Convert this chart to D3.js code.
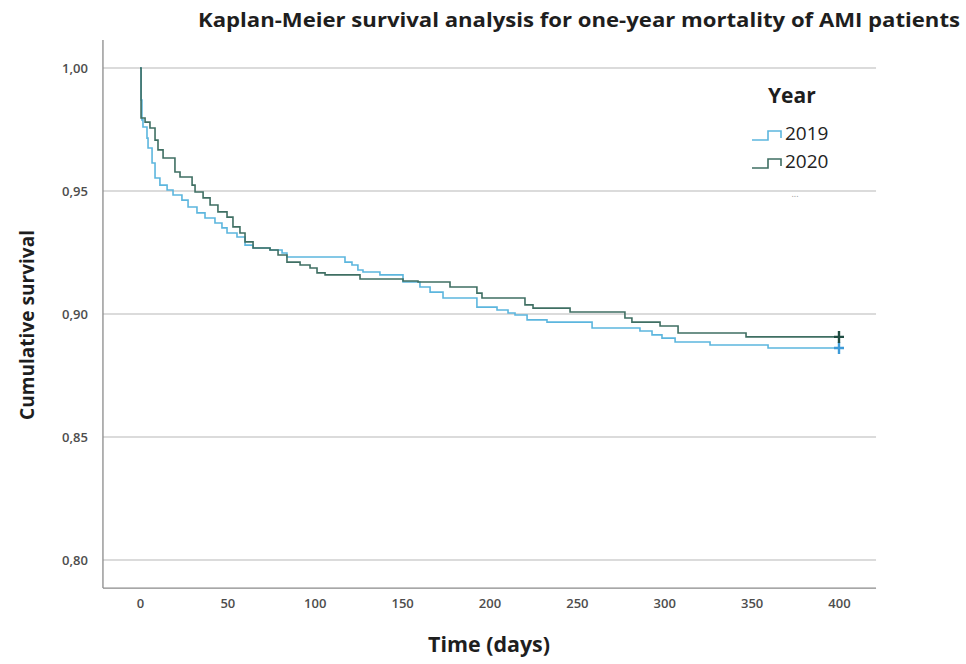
<!DOCTYPE html>
<html>
  <head>
    <meta charset="utf-8">
    <title>Kaplan-Meier survival</title>
    <script src="https://d3js.org/d3.v7.min.js"></script>
    <style>
      body { margin: 0; background: #fff; }
      text { font-family: "Open Sans", sans-serif; }
    </style>
  </head>
  <body>
    <div id="chart"></div>
    <script>
      // step times (days) and survival after each drop
      const days2019 = [0, 0.6, 1.1, 1.7, 4.0, 4.6, 6.9, 8.6, 11.4, 15.5, 18.9, 24.0, 27.5, 32.6, 37.2, 42.9, 46.9, 49.8, 55.5, 60.1, 64.7, 74.4, 81.3, 84.1, 117.3, 121.3, 124.7, 127.6, 137.3, 150.5, 160.2, 166.0, 173.4, 192.8, 204.3, 210.6, 214.6, 221.5, 232.9, 258.7, 286.1, 293.0, 298.7, 306.2, 326.2, 359.4, 400];
      const surv2019 = [1.0, 0.987, 0.9789, 0.976, 0.9715, 0.9675, 0.9614, 0.9553, 0.9524, 0.9504, 0.9484, 0.9463, 0.9435, 0.9411, 0.939, 0.937, 0.935, 0.9329, 0.9313, 0.928, 0.9268, 0.926, 0.9248, 0.9232, 0.9211, 0.9199, 0.9179, 0.9171, 0.9159, 0.913, 0.911, 0.9089, 0.9065, 0.9028, 0.9016, 0.9004, 0.8996, 0.8976, 0.8967, 0.8943, 0.8931, 0.8915, 0.8902, 0.8886, 0.8874, 0.8862, 0.8862];
      const days2020 = [0, 0.6, 2.9, 5.7, 8.6, 10.3, 13.2, 20.0, 22.9, 29.8, 31.5, 36.1, 40.1, 44.6, 49.8, 53.2, 57.2, 60.1, 64.7, 74.4, 79.0, 84.1, 91.6, 97.3, 101.3, 105.9, 125.9, 150.5, 159.1, 177.4, 192.8, 195.7, 220.3, 224.9, 246.1, 277.5, 281.5, 297.6, 307.9, 346.8, 400];
      const surv2020 = [1.0, 0.9797, 0.978, 0.9756, 0.9707, 0.9667, 0.9634, 0.9577, 0.9557, 0.9524, 0.9496, 0.9472, 0.9443, 0.9415, 0.9394, 0.9354, 0.9329, 0.9293, 0.9268, 0.926, 0.924, 0.9211, 0.9199, 0.9187, 0.9167, 0.9159, 0.9142, 0.9134, 0.913, 0.911, 0.9085, 0.9065, 0.9037, 0.9024, 0.9008, 0.8984, 0.8967, 0.8951, 0.8923, 0.8907, 0.8907];
      const xTicks = [0, 50, 100, 150, 200, 250, 300, 350, 400];
      const yTicks = [0.80, 0.85, 0.90, 0.95, 1.00];

      const series = [
        { name: "2019", days: days2019, surv: surv2019, color: "#5cb6de", mark: "#3e9bd8" },
        { name: "2020", days: days2020, surv: surv2020, color: "#3f6f63", mark: "#1f4c42" }
      ];

      const width = 966, height = 664;
      const svg = d3.select("#chart").append("svg")
        .attr("width", width)
        .attr("height", height);

      const x = d3.scaleLinear().domain([0, 400]).range([140, 839]);
      const y = d3.scaleLinear().domain([0.8, 1.0]).range([560, 68]);
      const x0 = x(-21.2), x1 = x(421.2);
      const yTop = y(1.0114), yBot = y(0.7886);

      const comma = d3.formatLocale({ decimal: ",", thousands: ".", grouping: [3], currency: ["", ""] }).format(".2f");

      // gridlines
      svg.append("g").selectAll("line")
        .data(yTicks)
        .join("line")
        .attr("x1", x0).attr("x2", x1)
        .attr("y1", d => y(d)).attr("y2", d => y(d))
        .attr("stroke", "#cfcfcf")
        .attr("stroke-width", 1.5);

      // frame
      svg.append("line").attr("x1", x0).attr("x2", x0).attr("y1", yTop).attr("y2", yBot)
        .attr("stroke", "#8a8a8a").attr("stroke-width", 1.3);
      svg.append("line").attr("x1", x0).attr("x2", x1).attr("y1", yBot).attr("y2", yBot)
        .attr("stroke", "#8a8a8a").attr("stroke-width", 1.3);

      // axes
      const yAxis = svg.append("g")
        .attr("transform", `translate(${x0 - 12},0)`)
        .call(d3.axisLeft(y).tickValues(yTicks).tickSize(0).tickFormat(comma));
      yAxis.select(".domain").remove();
      yAxis.selectAll("text")
        .attr("font-family", "Open Sans")
        .attr("font-size", 13)
        .attr("font-weight", 600)
        .attr("fill", "#4d4d4d");

      const xAxis = svg.append("g")
        .attr("transform", `translate(0,${yBot + 8})`)
        .call(d3.axisBottom(x).tickValues(xTicks).tickSize(0));
      xAxis.select(".domain").remove();
      xAxis.selectAll("text")
        .attr("font-family", "Open Sans")
        .attr("font-size", 13)
        .attr("font-weight", 600)
        .attr("fill", "#4d4d4d");

      // survival curves
      const line = d3.line()
        .x(d => x(d[0]))
        .y(d => y(d[1]))
        .curve(d3.curveStepAfter);

      series.forEach(s => {
        const pts = s.days.map((d, i) => [d, s.surv[i]]);
        svg.append("path")
          .datum(pts)
          .attr("d", line)
          .attr("fill", "none")
          .attr("stroke", s.color)
          .attr("stroke-width", 1.6);
        const last = pts[pts.length - 1];
        const cx = x(last[0]), cy = y(last[1]);
        svg.append("path")
          .attr("d", `M${cx - 5},${cy}H${cx + 5}M${cx},${cy - 6}V${cy + 6}`)
          .attr("stroke", s.mark)
          .attr("stroke-width", 2.4);
      });

      // title
      svg.append("text")
        .attr("x", 579).attr("y", 27)
        .attr("text-anchor", "middle")
        .attr("font-size", 20)
        .attr("font-weight", 700)
        .attr("fill", "#1e1e1e")
        .attr("textLength", 762)
        .attr("lengthAdjust", "spacingAndGlyphs")
        .text("Kaplan-Meier survival analysis for one-year mortality of AMI patients");

      svg.append("text")
        .attr("transform", "translate(34,325) rotate(-90)")
        .attr("text-anchor", "middle")
        .attr("font-size", 20)
        .attr("font-weight", 700)
        .attr("fill", "#1e1e1e")
        .attr("textLength", 190)
        .attr("lengthAdjust", "spacingAndGlyphs")
        .text("Cumulative survival");

      svg.append("text")
        .attr("x", 489).attr("y", 652)
        .attr("text-anchor", "middle")
        .attr("font-size", 21)
        .attr("font-weight", 700)
        .attr("fill", "#1e1e1e")
        .attr("textLength", 122)
        .attr("lengthAdjust", "spacingAndGlyphs")
        .text("Time (days)");

      // legend
      const legend = svg.append("g");
      legend.append("text")
        .attr("x", 768).attr("y", 103)
        .attr("font-size", 21)
        .attr("font-weight", 700)
        .attr("fill", "#1e1e1e")
        .text("Year");

      series.forEach((s, i) => {
        const ly = 140 + i * 28;
        legend.append("path")
          .attr("d", `M752,${ly}H768V${ly - 9}H781V${ly - 2}`)
          .attr("fill", "none")
          .attr("stroke", s.color)
          .attr("stroke-width", 1.6);
        legend.append("text")
          .attr("x", 785).attr("y", ly)
          .attr("font-size", 19)
          .attr("fill", "#222")
          .text(s.name);
      });

      legend.append("text")
        .attr("x", 795).attr("y", 197)
        .attr("text-anchor", "middle")
        .attr("font-size", 9)
        .attr("fill", "#999")
        .text("...");
    </script>
  </body>
</html>
